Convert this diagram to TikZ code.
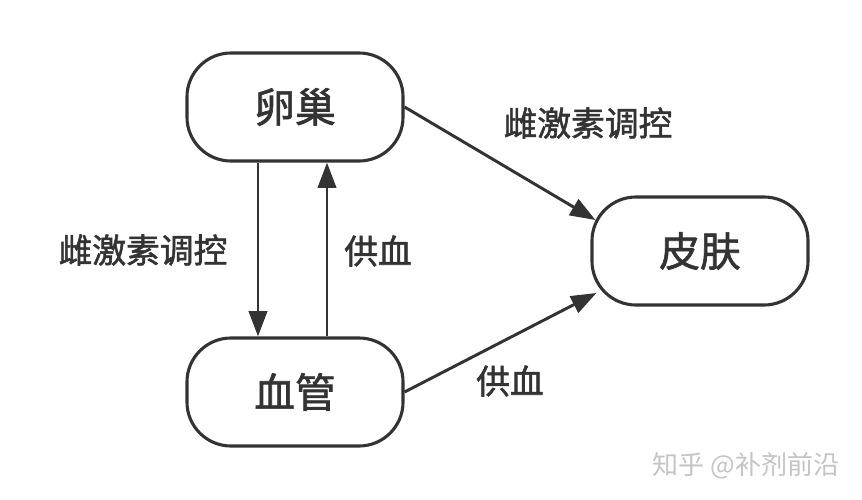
\documentclass[tikz,border=0pt]{standalone}
\usepackage{fontspec}
\newfontfamily\cjk{Noto Sans CJK SC}
\newfontfamily\cjkb[FakeBold=1.6]{Noto Sans CJK SC}
\usetikzlibrary{arrows.meta,calc}
\definecolor{ink}{HTML}{333333}
\definecolor{mark}{HTML}{C4C4C4}
\tikzset{
  organ/.style={draw=ink, line width=2.2pt, rounded corners=1.1cm,
    minimum width=5.4cm, minimum height=2.7cm, text=ink,
    font=\cjkb\fontsize{29}{32}\selectfont},
  lbl/.style={text=ink, font=\cjkb\fontsize{24}{28}\selectfont, inner sep=0pt},
  link/.style={draw=ink, line width=2.1pt,
    -{Triangle[length=18pt,width=13pt]}}
}
\begin{document}
\begin{tikzpicture}[x=0.025cm, y=-0.025cm]
			\useasboundingbox (0,0) rectangle (862,500);
			\node[organ] (ovary) at (295,107) {卵巢};
			\node[organ] (vessel) at (295,392) {血管};
			\node[organ] (skin) at (700,251) {皮肤};
			\draw [link] ($(ovary.south)+(-37,0)$) -- ($(vessel.north)+(-37,0)$);
			\draw [link] ($(vessel.north)+(32,0)$) -- ($(ovary.south)+(32,0)$);
			\draw [link] (ovary.east) -- ($(skin.west)+(5,-31)$);
			\draw [link] (vessel.east) -- ($(skin.west)+(6,42)$);
			\node[lbl] (hormL) at (143,250) {雌激素调控};
			\node[lbl] (bloodM) at (378,251) {供血};
			\node[lbl] (hormT) at (588,123) {雌激素调控};
			\node[lbl] (bloodB) at (510,381) {供血};
			\node[text=mark, font=\cjk\fontsize{18.5}{20}\selectfont, inner sep=0pt] (wm) at (746,466) {知乎 @补剂前沿};
		\end{tikzpicture}
\end{document}
